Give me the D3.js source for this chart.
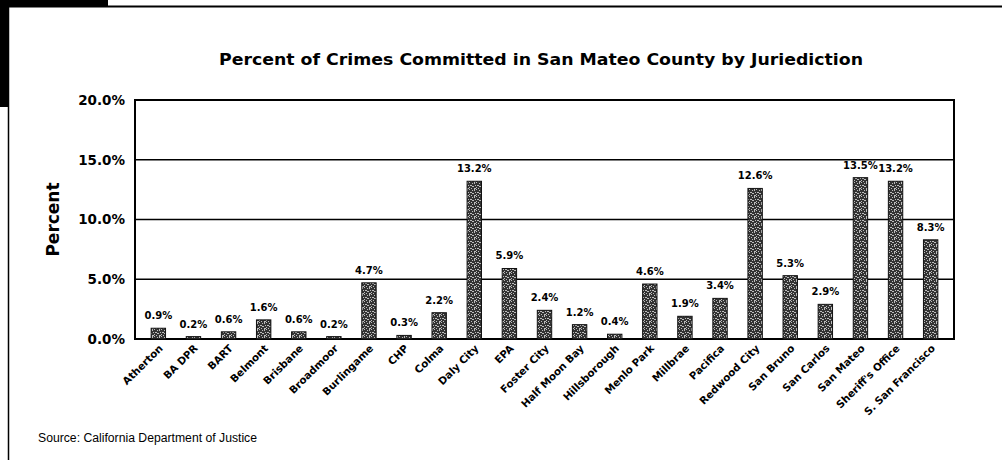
<!DOCTYPE html>
<html>
<head>
<meta charset="utf-8">
<script src="https://cdn.jsdelivr.net/npm/d3@7"></script>
<style>
  html, body { margin: 0; padding: 0; background: #fff; }
  svg { display: block; }
</style>
</head>
<body>
<script>
// Jurisdictions and their share of county crimes (percent)
const jurisdictions = [
  "Atherton", "BA DPR", "BART", "Belmont", "Brisbane", "Broadmoor",
  "Burlingame", "CHP", "Colma", "Daly City", "EPA", "Foster City",
  "Half Moon Bay", "Hillsborough", "Menlo Park", "Millbrae", "Pacifica",
  "Redwood City", "San Bruno", "San Carlos", "San Mateo", "Sheriff's Office",
  "S. San Francisco"
];
const crimePercent = [
  0.9, 0.2, 0.6, 1.6, 0.6, 0.2,
  4.7, 0.3, 2.2, 13.2, 5.9, 2.4,
  1.2, 0.4, 4.6, 1.9, 3.4,
  12.6, 5.3, 2.9, 13.5, 13.2,
  8.3
];
const yTicks = [0, 5, 10, 15, 20];

const W = 1002, H = 460;
const plot = { left: 135, right: 954, top: 100, bottom: 339 };

const svg = d3.select("body").append("svg")
  .attr("width", W).attr("height", H);

// stippled bar texture
const defs = svg.append("defs");
const pat = defs.append("pattern")
  .attr("id", "speck").attr("patternUnits", "userSpaceOnUse")
  .attr("width", 7).attr("height", 7);
pat.append("rect").attr("width", 7).attr("height", 7).attr("fill", "#333");
[[0,0,1,1],[3,1,1,1],[5,0,1,2],[1,3,2,1],[4,4,1,1],[6,3,1,1],[0,5,1,1],[2,6,1,1],[5,6,2,1],[3,4,1,1]]
  .forEach(([x, y, w, h]) => pat.append("rect")
    .attr("x", x).attr("y", y).attr("width", w).attr("height", h)
    .attr("fill", "#bdbdbd"));

// page frame
svg.append("rect").attr("x", 0).attr("y", 0).attr("width", 108).attr("height", 7).attr("fill", "#000");
svg.append("rect").attr("x", 0).attr("y", 0).attr("width", 9).attr("height", 107).attr("fill", "#000");
svg.append("line").attr("x1", 0).attr("x2", W).attr("y1", 6.5).attr("y2", 6.5)
  .attr("stroke", "#000").attr("stroke-width", 2);
svg.append("line").attr("x1", 8.5).attr("x2", 8.5).attr("y1", 0).attr("y2", H)
  .attr("stroke", "#000").attr("stroke-width", 1.5);

const x = d3.scaleBand()
  .domain(jurisdictions)
  .range([plot.left, plot.right])
  .paddingInner(0.59)
  .paddingOuter(0.46);

const y = d3.scaleLinear().domain([0, 20]).range([plot.bottom, plot.top]);

// gridlines
svg.append("g")
  .selectAll("line").data(yTicks.filter(t => t > 0 && t < 20)).join("line")
  .attr("x1", plot.left).attr("x2", plot.right)
  .attr("y1", d => y(d)).attr("y2", d => y(d))
  .attr("stroke", "#000").attr("stroke-width", 1.4);

// plot frame
svg.append("rect")
  .attr("x", plot.left).attr("y", plot.top)
  .attr("width", plot.right - plot.left).attr("height", plot.bottom - plot.top)
  .attr("fill", "none").attr("stroke", "#000").attr("stroke-width", 2);

// y axis tick labels
const yAxis = d3.axisLeft(y).tickValues(yTicks)
  .tickFormat(d => d.toFixed(1) + "%").tickSize(0).tickPadding(10);
const yg = svg.append("g").attr("transform", `translate(${plot.left},0)`).call(yAxis);
yg.select(".domain").remove();
yg.selectAll("text")
  .attr("font-family", "DejaVu Sans").attr("font-weight", "bold")
  .attr("font-size", 13.5).attr("fill", "#000");

// bars
const data = jurisdictions.map((name, i) => ({ name, value: crimePercent[i] }));
svg.append("g").selectAll("rect").data(data).join("rect")
  .attr("x", d => x(d.name))
  .attr("width", x.bandwidth())
  .attr("y", d => y(d.value))
  .attr("height", d => y(0) - y(d.value))
  .attr("fill", "url(#speck)")
  .attr("stroke", "#111").attr("stroke-width", 1);

// value labels
svg.append("g").selectAll("text").data(data).join("text")
  .attr("x", d => x(d.name) + x.bandwidth() / 2)
  .attr("y", d => y(d.value) - 9)
  .attr("text-anchor", "middle")
  .attr("font-family", "DejaVu Sans").attr("font-weight", "bold")
  .attr("font-size", 10).attr("fill", "#000")
  .text(d => d.value.toFixed(1) + "%");

// category labels
const xAxis = d3.axisBottom(x).tickSize(0).tickPadding(0);
const xg = svg.append("g").attr("transform", `translate(0,${plot.bottom})`).call(xAxis);
xg.select(".domain").remove();
xg.selectAll("text")
  .attr("font-family", "DejaVu Sans").attr("font-weight", "bold")
  .attr("font-size", 10.3).attr("fill", "#000")
  .attr("text-anchor", "end")
  .attr("dy", 0).attr("y", 0)
  .attr("transform", "translate(5,10) rotate(-45)");

// title
svg.append("text")
  .attr("x", (219 + 863) / 2).attr("y", 65)
  .attr("text-anchor", "middle")
  .attr("font-family", "DejaVu Sans").attr("font-weight", "bold")
  .attr("font-size", 15.5)
  .attr("textLength", 644).attr("lengthAdjust", "spacingAndGlyphs")
  .text("Percent of Crimes Committed in San Mateo County by Juriediction");

// y axis title
svg.append("text")
  .attr("transform", `translate(59,${(plot.top + plot.bottom) / 2}) rotate(-90)`)
  .attr("text-anchor", "middle")
  .attr("font-family", "DejaVu Sans").attr("font-weight", "bold")
  .attr("font-size", 17)
  .text("Percent");

// source note
svg.append("text")
  .attr("x", 38).attr("y", 442)
  .attr("font-family", "Liberation Sans").attr("font-size", 12)
  .attr("textLength", 219).attr("lengthAdjust", "spacingAndGlyphs")
  .attr("fill", "#000")
  .text("Source: California Department of Justice");
</script>
</body>
</html>
